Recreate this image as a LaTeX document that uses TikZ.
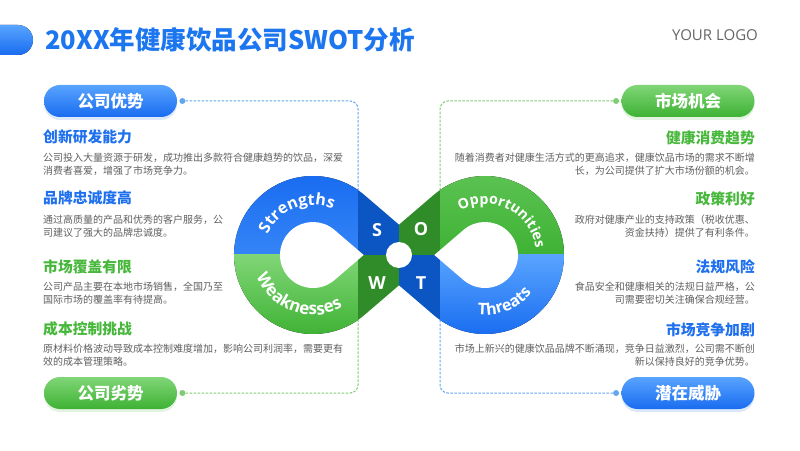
\documentclass[tikz,border=0pt]{standalone}
\usepackage{fontspec}
\setmainfont{Noto Sans CJK SC}
\newfontfamily\ringfont{Open Sans}
\usepackage{tikz}
\usetikzlibrary{
  calc,
  positioning,
  decorations.text,
  shadows
}
\definecolor{BlueMain}{RGB}{25,108,240}
\definecolor{BlueLight}{RGB}{88,164,255}
\definecolor{BlueDeep}{RGB}{12,86,196}
\definecolor{GreenMain}{RGB}{62,178,52}
\definecolor{GreenLight}{RGB}{128,214,118}
\definecolor{GreenDeep}{RGB}{48,140,40}
\definecolor{TitleBlue}{RGB}{28,118,240}
\definecolor{HeadBlue}{RGB}{30,112,238}
\definecolor{HeadGreen}{RGB}{72,184,60}
\definecolor{BodyGray}{RGB}{96,96,96}
\definecolor{LinkBlue}{RGB}{100,165,240}
\definecolor{LinkGreen}{RGB}{125,205,115}

\begin{document}
\begin{tikzpicture}[
  x=1pt, y=1pt,
  font=\fontsize{10}{13}\selectfont,
  pill/.style={rounded corners=16pt, minimum width=133pt, minimum height=32pt,
               inner sep=0pt, text=white, font=\fontsize{16.5}{18}\selectfont\bfseries},
  bluepill/.style={pill, top color=BlueLight, bottom color=BlueMain,
                   drop shadow={shadow xshift=0pt, shadow yshift=-3pt, opacity=0.15, fill=BlueMain}},
  greenpill/.style={pill, top color=GreenLight, bottom color=GreenMain,
                    drop shadow={shadow xshift=0pt, shadow yshift=-3pt, opacity=0.15, fill=GreenMain}},
  headtxt/.style={font=\fontsize{14.8}{16}\selectfont\bfseries, text=#1, inner sep=0pt},
  bodytxt/.style={text=BodyGray, inner sep=0pt, align=#1},
  linkdot/.style={circle, fill=#1, minimum size=6pt, inner sep=0pt},
  linkline/.style={draw=#1, line width=1pt, dash pattern=on 2.5pt off 1.5pt, rounded corners=8pt},
  swotletter/.style={text=white, font=\ringfont\fontsize{18}{18}\selectfont\bfseries, inner sep=0pt},
]
  \useasboundingbox (0,0) rectangle (800,450);
  \fill[white] (0,0) rectangle (800,450);

  % title
  \fill[top color=BlueLight, bottom color=BlueMain, rounded corners=15pt] (-30,395) rectangle (33,425);
  \node[anchor=west, inner sep=0pt, text=TitleBlue, font=\fontsize{25.5}{28}\selectfont\bfseries]
    (title) at (45,410) {20XX年健康饮品公司SWOT分析};
  \node[anchor=west, inner sep=0pt, text=black!60, font=\ringfont\fontsize{15}{16}\selectfont]
    (logo) at (672,415) {YOUR LOGO};

  % pills
  \node[bluepill] (strPill) at (110.5,349) {公司优势};
  \node[greenpill] (wkPill) at (110.5,57) {公司劣势};
  \node[greenpill] (opPill) at (688,349) {市场机会};
  \node[bluepill] (thPill) at (688,57) {潜在威胁};

  \node[linkdot=LinkBlue, right=2pt of strPill] (strDot) {};
  \node[linkdot=LinkGreen, right=2pt of wkPill] (wkDot) {};
  \node[linkdot=LinkGreen, left=2pt of opPill] (opDot) {};
  \node[linkdot=LinkBlue, left=2pt of thPill] (thDot) {};

  \coordinate (sLink) at (358,230);
  \coordinate (wLink) at (358,160);
  \coordinate (oLink) at (440,230);
  \coordinate (tLink) at (440,160);
  \draw[linkline=LinkBlue] (strDot) -| (sLink);
  \draw[linkline=LinkGreen] (wkDot) -| (wLink);
  \draw[linkline=LinkGreen] (opDot) -| (oLink);
  \draw[linkline=LinkBlue] (thDot) -| (tLink);

  % left column
  \node[headtxt=HeadBlue, anchor=west] (h1) at (43,313) {创新研发能力};
  \node[bodytxt=left, anchor=west] (b1) at (43,285.5)
    {公司投入大量资源于研发，成功推出多款符合健康趋势的饮品，深爱\\消费者喜爱，增强了市场竞争力。};
  \node[headtxt=HeadBlue, anchor=west] (h2) at (43,252) {品牌忠诚度高};
  \node[bodytxt=left, anchor=west] (b2) at (43,223.5)
    {通过高质量的产品和优秀的客户服务，公\\司建议了强大的品牌忠诚度。};
  \node[headtxt=HeadGreen, anchor=west] (h3) at (43,183) {市场覆盖有限};
  \node[bodytxt=left, anchor=west] (b3) at (43,156.5)
    {公司产品主要在本地市场销售，全国乃至\\国际市场的覆盖率有待提高。};
  \node[headtxt=HeadGreen, anchor=west] (h4) at (43,121) {成本控制挑战};
  \node[bodytxt=left, anchor=west] (b4) at (43,94.5)
    {原材料价格波动导致成本控制难度增加，影响公司利润率，需要更有\\效的成本管理策略。};

  % right column
  \node[headtxt=HeadGreen, anchor=east] (h5) at (755,312) {健康消费趋势};
  \node[bodytxt=right, anchor=east] (b5) at (755,286)
    {随着消费者对健康生活方式的更高追求，健康饮品市场的需求不断增\\长，为公司提供了扩大市场份额的机会。};
  \node[headtxt=HeadGreen, anchor=east] (h6) at (755,251) {政策利好};
  \node[bodytxt=right, anchor=east] (b6) at (755,224)
    {政府对健康产业的支持政策（税收优惠、\\资金扶持）提供了有利条件。};
  \node[headtxt=HeadBlue, anchor=east] (h7) at (755,183) {法规风险};
  \node[bodytxt=right, anchor=east] (b7) at (755,157)
    {食品安全和健康相关的法规日益严格，公\\司需要密切关注确保合规经营。};
  \node[headtxt=HeadBlue, anchor=east] (h8) at (755,120) {市场竞争加剧};
  \node[bodytxt=right, anchor=east] (b8) at (755,94.5)
    {市场上新兴的健康饮品品牌不断涌现，竞争日益激烈，公司需不断创\\新以保持良好的竞争优势。};

  % infinity band
  \coordinate (ctr) at (399,195);
  \coordinate (lc) at (313,195);
  \coordinate (rc) at (485,195);
  \begin{scope}
    \clip (364.44,254.95) -- (399,225.31) -- (433.56,254.95)
      arc[start angle=130.63, end angle=-130.63, radius=79pt]
      -- (399,164.69) -- (364.44,135.05)
      arc[start angle=-49.37, end angle=-310.63, radius=79pt] -- cycle;
    \fill[top color=BlueMain, bottom color=BlueMain!55!BlueLight] (230,195) rectangle (358,276);
    \fill[top color=GreenLight, bottom color=GreenMain] (230,114) rectangle (358,195);
    \fill[BlueDeep] (358,195) rectangle (399,276);
    \fill[GreenDeep] (358,114) rectangle (399,195);
    \fill[GreenDeep] (399,195) rectangle (440,276);
    \fill[BlueDeep] (399,114) rectangle (440,195);
    \fill[top color=GreenMain!55!GreenLight, bottom color=GreenMain] (440,195) rectangle (570,276);
    \fill[top color=BlueLight, bottom color=BlueMain] (440,114) rectangle (570,195);
  \end{scope}
  \fill[white] (334.49,220.04) -- (363.68,195) -- (334.49,169.96)
    arc[start angle=-49.37, end angle=-310.63, radius=33pt] -- cycle;
  \fill[white] (463.51,220.04) -- (434.32,195) -- (463.51,169.96)
    arc[start angle=-130.63, end angle=130.63, radius=33pt] -- cycle;
  \fill[white] (ctr) circle[radius=13pt];

  \node[swotletter] (sLetter) at (377,220) {S};
  \node[swotletter] (oLetter) at (421,221) {O};
  \node[swotletter] (wLetter) at (377,167) {W};
  \node[swotletter] (tLetter) at (421,167) {T};

  % ring labels
  \path[decorate, decoration={text along path, text align=center, text color=white,
      text={|\ringfont\fontsize{16}{16}\selectfont\bfseries|Strengths}}]
    ($(lc)+(181:50pt)$) arc[start angle=181, end angle=41, radius=50pt];
  \path[decorate, decoration={text along path, text align=center, text color=white,
      text={|\ringfont\fontsize{17}{17}\selectfont\bfseries|Weaknesses}}]
    ($(lc)+(175:60pt)$) arc[start angle=175, end angle=325, radius=60pt];
  \path[decorate, decoration={text along path, text align=center, text color=white,
      text={|\ringfont\fontsize{14.2}{15}\selectfont\bfseries|Opportunities}}]
    ($(rc)+(143:51pt)$) arc[start angle=143, end angle=-17, radius=51pt];
  \path[decorate, decoration={text along path, text align=center, text color=white,
      text={|\ringfont\fontsize{16}{16}\selectfont\bfseries|Threats}}]
    ($(rc)+(222:60pt)$) arc[start angle=222, end angle=362, radius=60pt];
\end{tikzpicture}
\end{document}
